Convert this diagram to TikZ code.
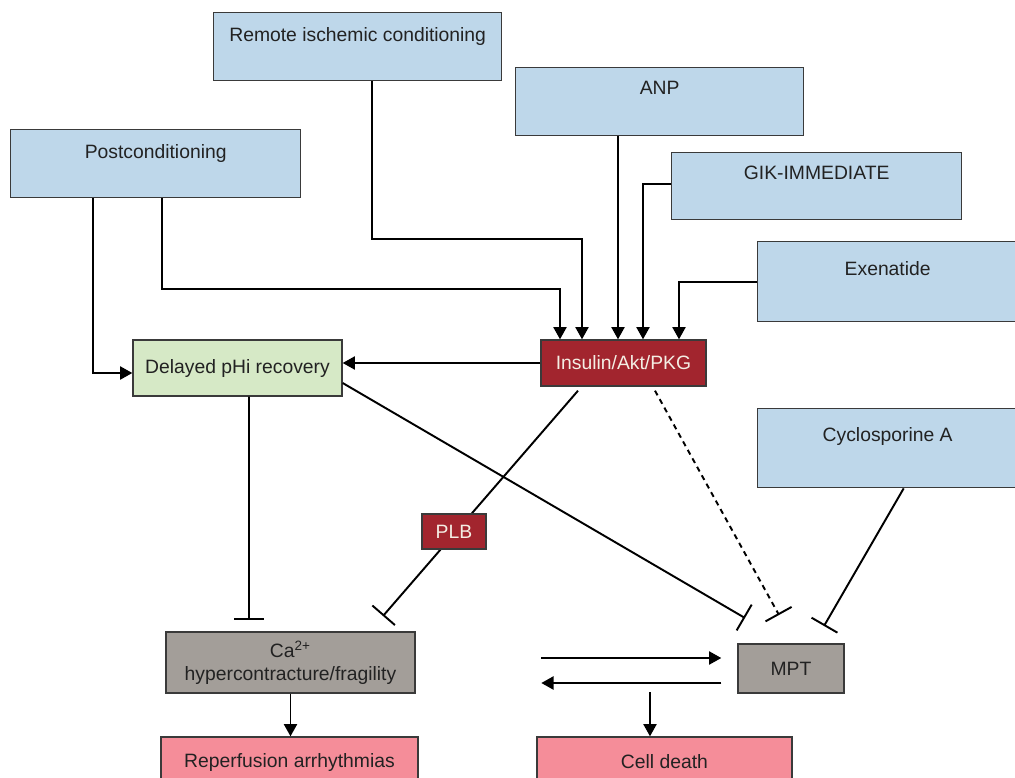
\documentclass[tikz,border=0pt]{standalone}
\usepackage{fontspec}
\setmainfont{Liberation Sans}
\usetikzlibrary{arrows.meta,calc}
\definecolor{ink}{HTML}{222222}
\definecolor{edge}{HTML}{3A3A3A}
\definecolor{srcblue}{HTML}{BED7EA}
\definecolor{phgreen}{HTML}{D6E9C6}
\definecolor{hubred}{HTML}{A2252E}
\definecolor{hubtext}{HTML}{F4EEE4}
\definecolor{stone}{HTML}{A39E99}
\definecolor{outpink}{HTML}{F58D99}

\begin{document}
\begin{tikzpicture}[x=0.02cm,y=-0.02cm,font=\fontsize{11}{13}\selectfont,text=ink,
  box/.style={draw=edge,line width=0.8pt,inner sep=0pt},
  src/.style={box,fill=srcblue,anchor=north west,text height=0.58cm,text depth=0.78cm},
  hub/.style={box,fill=hubred,text=hubtext},
  arr/.style={line width=1.1pt,-{Triangle[length=7pt,width=7.5pt]}},
  inh/.style={line width=1.1pt,-{Bar[width=17pt,line width=1.1pt]}}]
  \useasboundingbox (0,0) rectangle (1015,778);
  % treatments
  \node[src,minimum width=5.76cm] (rem) at (213,12) {Remote ischemic conditioning};
  \node[src,minimum width=5.76cm,text height=0.54cm,text depth=0.82cm] (anp) at (515,67) {ANP};
  \node[src,minimum width=5.8cm] (post) at (10,129) {Postconditioning};
  \node[src,minimum width=5.8cm,text height=0.54cm,text depth=0.8cm] (gik) at (671,152) {GIK-IMMEDIATE};
  \node[src,minimum width=5.2cm,text height=0.68cm,text depth=0.92cm] (exe) at (757,241) {Exenatide};
  \node[src,minimum width=5.2cm,text height=0.66cm,text depth=0.92cm] (cyc) at (757,408) {Cyclosporine A};
  % pathway
  \node[hub,minimum width=3.3cm,minimum height=0.92cm] (ins) at (623.5,363) {Insulin/Akt/PKG};
  \node[box,fill=phgreen,minimum width=4.18cm,minimum height=1.12cm] (del) at (237.5,368) {Delayed pHi recovery};
  \node[box,fill=stone,minimum width=4.98cm,minimum height=1.22cm,align=center] (ca) at (290.5,662.5)
    {Ca\textsuperscript{2+}\\hypercontracture/fragility};
  \node[box,fill=stone,minimum width=2.12cm,minimum height=0.98cm] (mpt) at (791,668.5) {MPT};
  \node[box,fill=outpink,minimum width=5.14cm,minimum height=1cm] (rep) at (289.5,762) {Reperfusion arrhythmias};
  \node[box,fill=outpink,minimum width=5.1cm,minimum height=1cm] (cell) at (664.5,762) {Cell death};
  \coordinate (anpin) at ($(ins.north)+(-5.5,0)$);
  \coordinate (tca1) at (249,620);
  \coordinate (tca2) at (383,616);
  \coordinate (tm1) at (745,618);
  \coordinate (tm2) at (779,615);
  \coordinate (tm3) at (824,626);

  \draw[arr] ($(rem.south)+(14,0)$) |- ($(ins.north)+(-41.5,-100)$) -- ($(ins.north)+(-41.5,0)$);
  \draw[arr] ($(post.south)+(6,0)$) |- ($(ins.north)+(-63.5,-50)$) -- ($(ins.north)+(-63.5,0)$);
  \draw[arr] ($(post.south)+(-63,0)$) |- ($(del.west)+(0,5)$);
  \draw[arr] (anpin |- anp.south) -- (anpin);
  \draw[arr] ($(gik.west)+(0,-2.5)$) -| ($(ins.north)+(19.5,0)$);
  \draw[arr] (exe.west) -| ($(ins.north)+(55.5,0)$);
  \draw[arr] (ins.west) -- (ins.west -| del.east);
  \draw[inh] ($(del.south)+(11.5,0)$) -- (tca1);
  \draw[inh] ($(ins.south)+(-45.5,4)$) -- (tca2);
  \node[hub,minimum width=1.28cm,minimum height=0.7cm] (plb) at (454,531.5) {PLB};
  \draw[inh] ($(del.east)+(0,15)$) -- (tm1);
  \draw[inh,dash pattern=on 3pt off 2.5pt] ($(ins.south)+(31.5,4)$) -- (tm2);
  \draw[inh] ($(cyc.south)+(16,0)$) -- (tm3);
  \draw[arr] ($(mpt.west)+(-196,-10.5)$) -- ($(mpt.west)+(-16,-10.5)$);
  \draw[arr] ($(mpt.west)+(-16,14.5)$) -- ($(mpt.west)+(-196,14.5)$);
  \draw[arr] ($(cell.north)+(-14.5,-44)$) -- ($(cell.north)+(-14.5,0)$);
  \draw[arr] (ca.south) -- (ca.south |- rep.north);
\end{tikzpicture}
\end{document}
